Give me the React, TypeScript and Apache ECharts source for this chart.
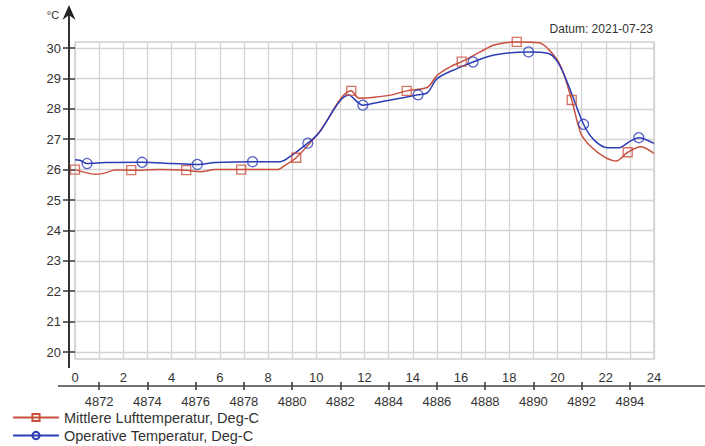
import React, { useEffect, useRef } from "react";
import * as echarts from "echarts";

// ---- Data (hours of day 2021-07-23) ----
const redName = "Mittlere Lufttemperatur, Deg-C";
const blueName = "Operative Temperatur, Deg-C";

const redCurveX = [0, 0.45, 0.87, 1.3, 1.66, 2.33, 3.5, 4.61, 5.19, 5.81, 6.89, 7.8, 8.38, 8.72, 9.17, 10.09, 11.45, 11.77, 12.4, 13.08, 13.75, 14.61, 15.02, 15.57, 16.03, 16.82, 17.37, 18.31, 19.24, 19.66, 20.14, 20.59, 20.97, 21.39, 21.94, 22.43, 22.91, 23.46, 24];
const redCurveY = [26.0, 25.9, 25.85, 25.9, 25.99, 25.98, 26.0, 25.98, 25.93, 26.0, 26.0, 26.0, 26.0, 26.15, 26.39, 27.2, 28.59, 28.35, 28.38, 28.45, 28.59, 28.71, 29.11, 29.39, 29.55, 29.88, 30.1, 30.2, 30.17, 29.93, 29.39, 28.29, 27.19, 26.75, 26.42, 26.28, 26.57, 26.75, 26.53];
const redMarkX = [0, 2.33, 4.61, 6.89, 9.17, 11.45, 13.75, 16.03, 18.31, 20.59, 22.91];
const redMarkY = [26.0, 25.98, 25.98, 26.0, 26.39, 28.59, 28.59, 29.55, 30.2, 28.29, 26.57];

const blueCurveX = [0, 0.2, 0.5, 1.25, 2.78, 4.0, 5.07, 5.81, 7.36, 8.51, 9.0, 9.65, 10.09, 11.35, 11.93, 12.5, 13.08, 14.22, 14.61, 15.02, 15.85, 16.5, 17.37, 18.8, 19.59, 20.0, 20.42, 21.08, 21.52, 22.08, 22.56, 22.98, 23.37, 24];
const blueCurveY = [26.32, 26.31, 26.2, 26.23, 26.24, 26.2, 26.17, 26.23, 26.26, 26.26, 26.48, 26.87, 27.19, 28.45, 28.12, 28.2, 28.29, 28.46, 28.53, 29.0, 29.33, 29.54, 29.77, 29.87, 29.83, 29.55, 28.84, 27.49, 26.97, 26.72, 26.72, 26.92, 27.05, 26.86];
const blueMarkX = [0.5, 2.78, 5.07, 7.36, 9.65, 11.93, 14.22, 16.5, 18.8, 21.08, 23.37];
const blueMarkY = [26.2, 26.24, 26.17, 26.26, 26.87, 28.12, 28.46, 29.54, 29.87, 27.49, 27.05];

const hourLabels = [0, 2, 4, 6, 8, 10, 12, 14, 16, 18, 20, 22, 24];
const dayNumbers = [4872, 4874, 4876, 4878, 4880, 4882, 4884, 4886, 4888, 4890, 4892, 4894];

const dateText = "Datum: 2021-07-23";
const unitText = "°C";

const RED = "#c9503f";
const BLUE = "#2c3cb4";
const FONT = "Liberation Sans, Arial, sans-serif";

const zip = (xs: number[], ys: number[]) => xs.map((x, i) => [x, ys[i]]);

export default function App() {
  const ref = useRef<HTMLDivElement>(null);
  useEffect(() => {
    if (!ref.current) return;
    const chart = echarts.init(ref.current, undefined, { renderer: "svg" });
    const gridLeft = 75;
    const gridWidth = 579;
    chart.setOption({
      animation: false,
      backgroundColor: "#ffffff",
      textStyle: { fontFamily: FONT },
      grid: [
        { left: gridLeft, width: gridWidth, top: 48, height: 304 },
        { left: gridLeft, width: gridWidth, top: 42, height: 317, show: true, borderColor: "#cfcfcf", borderWidth: 1.5, backgroundColor: "transparent" },
        { left: gridLeft, width: gridWidth, top: 300, height: 82 },
      ],
      xAxis: [
        {
          type: "value", gridIndex: 0, min: 0, max: 24, interval: 2, position: "bottom", offset: 34,
          axisLine: { show: false }, splitLine: { show: false }, axisTick: { show: false },
          axisLabel: { inside: true, margin: 2, fontSize: 13, color: "#333", fontFamily: FONT, showMinLabel: true, showMaxLabel: true, customValues: hourLabels, formatter: (v: number) => String(v) },
        },
        {
          type: "value", gridIndex: 1, min: 0, max: 24, interval: 1,
          axisLine: { show: false }, axisTick: { show: false }, axisLabel: { show: false },
          splitLine: { show: true, lineStyle: { color: "#d4d4d4", width: 1.3 } },
        },
        {
          type: "value", gridIndex: 2, min: 4871, max: 4895, position: "bottom",
          axisLine: { show: false }, splitLine: { show: false },
          axisTick: { show: true, length: 8, customValues: dayNumbers, lineStyle: { color: "#333", width: 1.5 } },
          axisLabel: { margin: 13, fontSize: 13, color: "#333", fontFamily: FONT, customValues: dayNumbers, formatter: (v: number) => String(v) },
        },
      ],
      yAxis: [
        {
          type: "value", gridIndex: 0, min: 20, max: 30, interval: 1,
          axisLine: { show: false },
          axisTick: { show: true, length: 12, lineStyle: { color: "#333", width: 1.5 } },
          axisLabel: { margin: 14, fontSize: 13, color: "#333", fontFamily: FONT },
          splitLine: { show: true, lineStyle: { color: "#d4d4d4", width: 1.3 } },
        },
        { type: "value", gridIndex: 1, min: 0, max: 1, show: false },
        { type: "value", gridIndex: 2, min: 0, max: 1, show: false },
      ],
      legend: {
        data: [redName, blueName],
        orient: "vertical",
        left: 12,
        bottom: 3,
        itemWidth: 46,
        itemHeight: 9,
        itemGap: 3,
        padding: 0,
        textStyle: { fontSize: 14.5, color: "#333", fontFamily: FONT },
      },
      series: [
        {
          name: redName, type: "line", xAxisIndex: 0, yAxisIndex: 0,
          data: zip(redCurveX, redCurveY), smooth: 0.3, showSymbol: false,
          symbol: "rect", symbolSize: 8, clip: false,
          lineStyle: { color: RED, width: 1.5 },
          itemStyle: { color: "transparent", borderColor: RED, borderWidth: 1.2 },
          z: 3,
        },
        {
          name: blueName, type: "line", xAxisIndex: 0, yAxisIndex: 0,
          data: zip(blueCurveX, blueCurveY), smooth: 0.3, showSymbol: false,
          symbol: "circle", symbolSize: 8, clip: false,
          lineStyle: { color: BLUE, width: 1.5 },
          itemStyle: { color: "transparent", borderColor: BLUE, borderWidth: 1.2 },
          z: 3,
        },
        {
          name: redName + " markers", type: "scatter", xAxisIndex: 0, yAxisIndex: 0,
          data: zip(redMarkX, redMarkY), symbol: "rect", symbolSize: 9, clip: false,
          itemStyle: { color: "transparent", borderColor: RED, borderWidth: 1.3 },
          z: 4,
        },
        {
          name: blueName + " markers", type: "scatter", xAxisIndex: 0, yAxisIndex: 0,
          data: zip(blueMarkX, blueMarkY), symbol: "circle", symbolSize: 10, clip: false,
          itemStyle: { color: "transparent", borderColor: BLUE, borderWidth: 1.3 },
          z: 4,
        },
      ],
      graphic: [
        { type: "line", shape: { x1: 69, y1: 12, x2: 69, y2: 368 }, style: { stroke: "#333", lineWidth: 2 }, z: 10 },
        { type: "polygon", shape: { points: [[69, 5], [75.5, 20], [69, 15], [62.5, 20]] }, style: { fill: "#222" }, z: 10 },
        { type: "line", shape: { x1: 58, y1: 386, x2: 705, y2: 386 }, style: { stroke: "#444", lineWidth: 1.5 }, z: 10 },
        { type: "text", x: 53, y: 15, style: { text: unitText, fontSize: 11, fill: "#333", fontFamily: FONT, align: "center", verticalAlign: "middle", textAlign: "center", textVerticalAlign: "middle" }, z: 10 },
        { type: "text", x: 653, y: 29, style: { text: dateText, fontSize: 12, fill: "#333", fontFamily: FONT, align: "right", verticalAlign: "middle", textAlign: "right", textVerticalAlign: "middle" }, z: 10 },
      ],
    });
    return () => chart.dispose();
  }, []);
  return <div ref={ref} style={{ position: "fixed", left: 0, top: 0, width: 705, height: 446 }} />;
}
